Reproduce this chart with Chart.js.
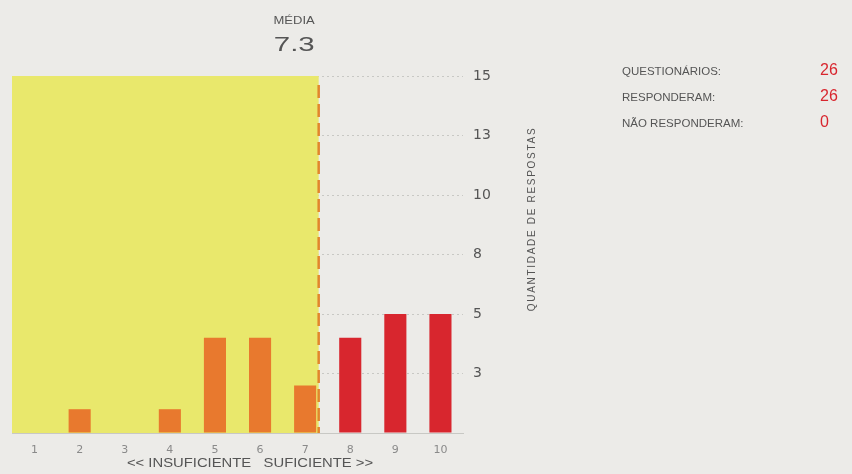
<!DOCTYPE html>
<html>
<head>
<meta charset="utf-8">
<script src="https://cdn.jsdelivr.net/npm/chart.js@4"></script>
<style>
  body { margin: 0; background: #ecebe8; font-family: "Liberation Sans", Arial, sans-serif; }
  #wrap { position: relative; width: 852px; height: 474px; overflow: hidden; }
  #stats { position: absolute; left: 622px; top: 65px; color: #555; font-size: 11.5px; }
  #stats div { height: 26px; position: relative; white-space: nowrap; }
  #stats span { position: absolute; left: 198px; top: -4px; color: #d8262e; font-size: 16px; }
</style>
</head>
<body>
<div id="wrap">
  <canvas id="notas" width="852" height="474"></canvas>
  <div id="stats">
    <div>QUESTIONÁRIOS:<span>26</span></div>
    <div>RESPONDERAM:<span>26</span></div>
    <div>NÃO RESPONDERAM:<span>0</span></div>
  </div>
</div>
<script>
// dados ===========
const notas = ["1", "2", "3", "4", "5", "6", "7", "8", "9", "10"];
const respostas = [0, 1, 0, 1, 4, 4, 2, 4, 5, 5];
const corBarra = ["#e8792e", "#e8792e", "#e8792e", "#e8792e", "#e8792e", "#e8792e", "#e8792e", "#d8262e", "#d8262e", "#d8262e"];
const media = 7.3;
const yTicks = [0, 2.5, 5, 7.5, 10, 12.5, 15];

// texto esticado na horizontal (como no original)
function texto(ctx, str, x, y, font, sx) {
  ctx.save();
  ctx.font = font;
  ctx.translate(x, y);
  ctx.scale(sx, 1);
  ctx.fillText(str, 0, 0);
  ctx.restore();
}

// faixa amarela + linha da media
const mediaPlugin = {
  id: "media",
  beforeDatasetsDraw(chart) {
    const { ctx, chartArea, scales } = chart;
    const xm = scales.x.getPixelForValue(media - 1);
    const top = scales.y.getPixelForValue(15);
    const bot = scales.y.getPixelForValue(0);
    ctx.save();
    ctx.fillStyle = "#e9e86c";
    ctx.fillRect(chartArea.left, top, xm - chartArea.left, bot - top);
    ctx.restore();
  },
  afterDatasetsDraw(chart) {
    const { ctx, scales } = chart;
    const xm = scales.x.getPixelForValue(media - 1);
    const top = scales.y.getPixelForValue(15);
    const bot = scales.y.getPixelForValue(0);
    ctx.save();
    ctx.strokeStyle = "#e2862c";
    ctx.lineWidth = 2.5;
    ctx.setLineDash([13, 6]);
    ctx.beginPath();
    ctx.moveTo(xm, top + 9);
    ctx.lineTo(xm, bot);
    ctx.stroke();
    ctx.setLineDash([]);

    ctx.fillStyle = "#555";
    ctx.textAlign = "right";
    ctx.textBaseline = "middle";
    texto(ctx, "MÉDIA", xm - 4, 21, "10px 'Liberation Sans'", 1.3);
    texto(ctx, media.toFixed(1), xm - 4, 45, "21px 'Liberation Sans'", 1.4);

    ctx.textAlign = "center";
    texto(ctx, "<< INSUFICIENTE   SUFICIENTE >>", 250, 463, "13px 'Liberation Sans'", 1.14);

    ctx.translate(532, 219);
    ctx.rotate(-Math.PI / 2);
    ctx.font = "10px 'Liberation Sans'";
    ctx.letterSpacing = "1.7px";
    ctx.fillText("QUANTIDADE DE RESPOSTAS", 0, 0);
    ctx.restore();
  }
};

const grafico = document.getElementById("notas").getContext("2d");
const myChart = new Chart(grafico, {
  type: "bar",
  data: {
    labels: notas,
    datasets: [
      {
        data: respostas,
        backgroundColor: corBarra,
        barPercentage: 0.49,
        categoryPercentage: 1,
      },
    ],
  },
  options: {
    responsive: false,
    animation: false,
    layout: { padding: { left: 12, top: 76, right: 329, bottom: 0 } },
    plugins: { legend: { display: false }, tooltip: { enabled: false } },
    scales: {
      x: {
        grid: { display: false },
        border: { display: true, color: "#c8c8c4", width: 1 },
        ticks: { color: "#8a8a8a", font: { size: 11, family: "DejaVu Sans" }, padding: 3 },
        afterFit(scale) { scale.height = 41; },
      },
      y: {
        position: "right",
        min: 0,
        max: 15,
        afterBuildTicks(scale) { scale.ticks = yTicks.map((v) => ({ value: v })); },
        grid: {
          color: (c) => (c.tick && c.tick.value === 0 ? "rgba(0,0,0,0)" : "#c8c8c4"),
          drawTicks: false,
        },
        border: { display: false, dash: [2, 3] },
        ticks: {
          color: "#555",
          padding: 10,
          font: { size: 14, family: "DejaVu Sans" },
          callback: (v) => (v === 0 ? "" : Math.round(v)),
        },
        afterFit(scale) { scale.width = 60; },
      },
    },
  },
  plugins: [mediaPlugin],
});
</script>
</body>
</html>
